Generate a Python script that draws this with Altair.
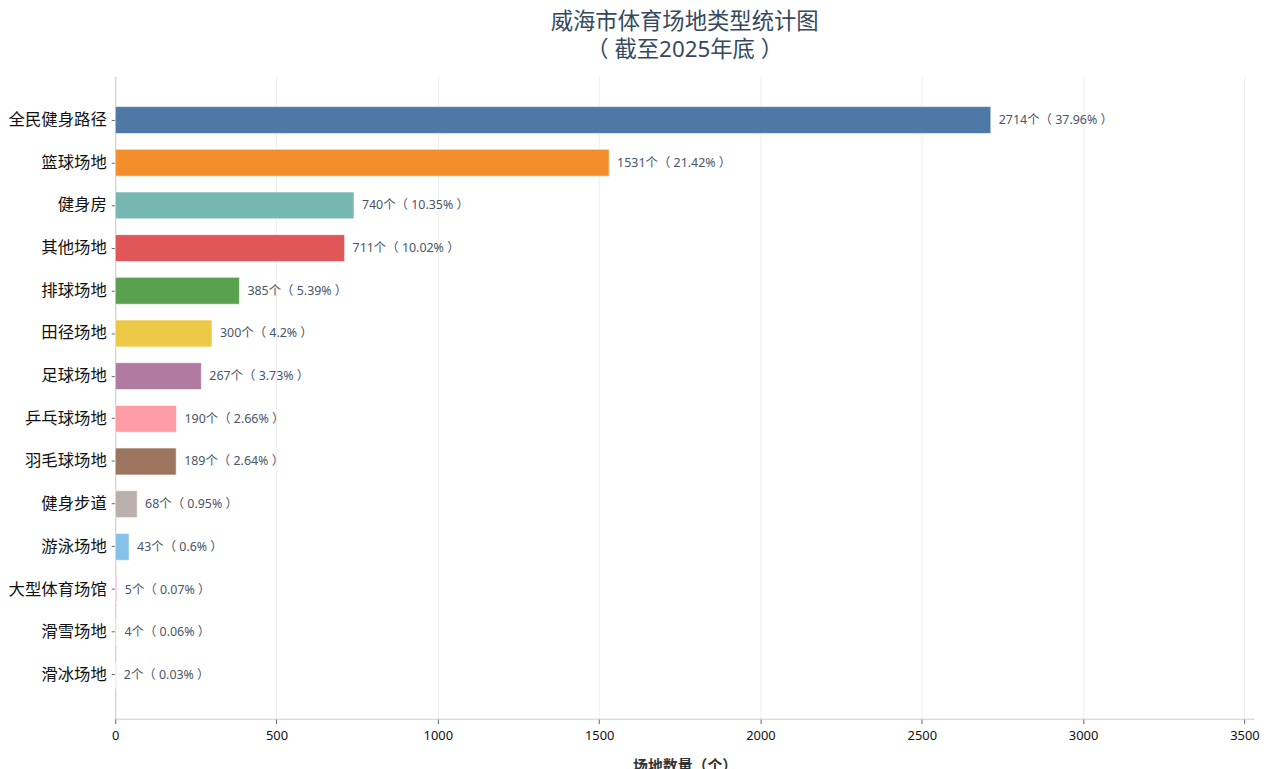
import altair as alt
import pandas as pd

categories = ["全民健身路径", "篮球场地", "健身房", "其他场地", "排球场地", "田径场地", "足球场地",
              "乒乓球场地", "羽毛球场地", "健身步道", "游泳场地", "大型体育场馆", "滑雪场地", "滑冰场地"]
counts = [2714, 1531, 740, 711, 385, 300, 267, 190, 189, 68, 43, 5, 4, 2]
percents = ["37.96", "21.42", "10.35", "10.02", "5.39", "4.2", "3.73", "2.66", "2.64", "0.95", "0.6", "0.07", "0.06", "0.03"]
colors = ["#4e79a7", "#f28e2b", "#76b7b2", "#e15759", "#59a14f", "#edc948", "#b07aa1",
          "#ff9da7", "#9c755f", "#bab0ac", "#85c1e9", "#e8b4d8", "#b5e3a8", "#d5d8dc"]
x_ticks = [0, 500, 1000, 1500, 2000, 2500, 3000, 3500]

df = pd.DataFrame({
    "类型": categories,
    "数量": counts,
    "标签": [f"{c}个（ {p}% ）" for c, p in zip(counts, percents)],
})

CJK = "Noto Sans CJK SC"
MIX = "Noto Sans, Noto Sans CJK SC"

y_enc = alt.Y("类型:N", sort=categories, title=None,
              scale=alt.Scale(paddingInner=0.37, paddingOuter=0.71),
              axis=alt.Axis(labelFontSize=16.5, labelColor="#111", labelFont=CJK,
                            tickColor="#666", tickSize=4, domainColor="#ccc",
                            labelPadding=5, grid=False))
x_enc = alt.X("数量:Q", title="场地数量（个）",
              scale=alt.Scale(domain=[0, 3530], nice=False),
              axis=alt.Axis(values=x_ticks, format="d", labelFontSize=13, labelColor="#111", labelFont=MIX,
                            titleFontSize=15, titleFont=MIX, titleColor="#333", titleFontWeight="bold",
                            tickColor="#666", tickSize=5, domainColor="#ccc", labelPadding=6,
                            grid=True, gridColor="#eeeeee", titlePadding=16, labelFlush=False))

bars = alt.Chart(df).mark_bar(stroke="white", strokeWidth=1, strokeOpacity=0.6).encode(
    y=y_enc,
    x=x_enc,
    color=alt.Color("类型:N", scale=alt.Scale(domain=categories, range=colors), legend=None),
)

labels = alt.Chart(df).mark_text(align="left", baseline="middle", dx=8, fontSize=12.5,
                                 font=MIX, color="#4a5568").encode(
    y=alt.Y("类型:N", sort=categories),
    x="数量:Q",
    text="标签:N",
)

chart = alt.layer(bars, labels).properties(
    width=1147,
    height=647,
    padding={"left": 0, "top": 0, "right": 5, "bottom": 5},
    title=alt.TitleParams(text=["威海市体育场地类型统计图", "（ 截至2025年底 ）"],
                          fontSize=22.5, font=MIX, color="#34495e", fontWeight="normal",
                          anchor="middle", lineHeight=28, offset=15),
).configure_view(stroke=None)

chart.save("out.html", embed_options={"renderer": "svg", "actions": False})
